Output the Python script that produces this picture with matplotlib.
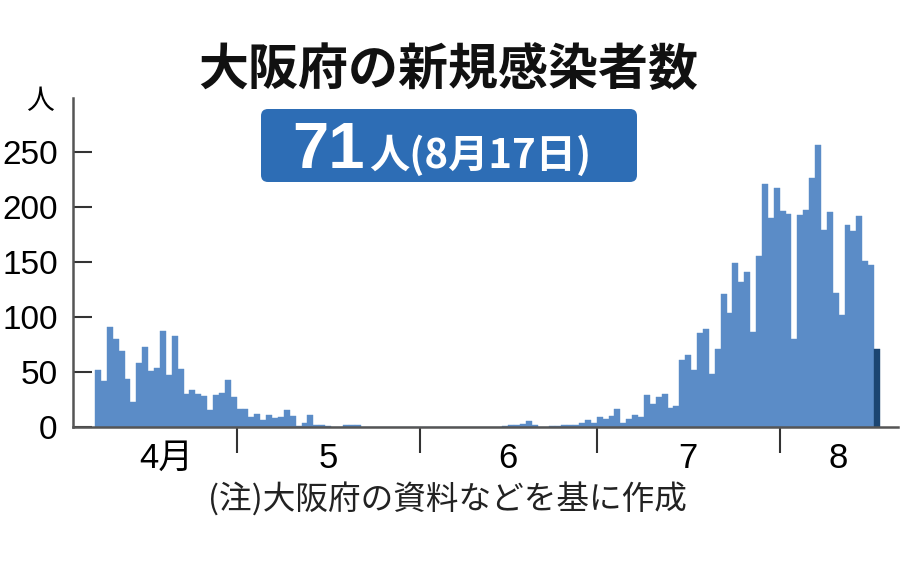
import numpy as np
import matplotlib
matplotlib.use("Agg")
import matplotlib.pyplot as plt
from matplotlib.patches import FancyBboxPatch

# daily new cases in Osaka, 7 Apr - 17 Aug
april = [52, 42, 91, 80, 69, 44, 23, 58, 73, 51, 54, 87, 47, 83, 53, 30,
         34, 30, 28, 15, 29, 31, 43, 27]
may = [16, 16, 9, 12, 6, 11, 8, 9, 15, 10, 1, 4, 11, 2, 2, 1, 0, 0, 2, 2,
       2, 0, 0, 0, 0, 0, 0, 0, 0, 0, 0]
june = [0, 0, 0, 0, 0, 0, 0, 0, 0, 0, 0, 0, 0, 0, 1, 2, 2, 3, 5, 2,
        0, 0, 1, 1, 2, 2, 2, 4, 6, 4]
july = [9, 7, 10, 16, 4, 7, 11, 9, 29, 21, 27, 30, 17, 19, 61, 65, 52, 85,
        89, 48, 71, 121, 104, 149, 132, 141, 86, 155, 221, 190, 217]
august = [196, 194, 80, 193, 197, 226, 256, 179, 195, 122, 102, 184, 178,
          192, 151, 147, 71]

month_labels = ["4月", "5", "6", "7", "8"]
y_ticks = [0, 50, 100, 150, 200, 250]

title = "大阪府の新規感染者数"
latest_num = "71"
latest_rest = "人(8月17日)"
note = "(注)大阪府の資料などを基に作成"

JP = "Noto Sans CJK JP"
NUM = ["Liberation Sans", JP]

BAR = "#5b8cc7"
LAST = "#1b4571"
BOX = "#2d6db5"

values = april + may + june + july + august
x = np.arange(len(values))
colors = [BAR] * (len(values) - 1) + [LAST]

# month boundaries (between last day of a month and first of the next)
lengths = [len(april), len(may), len(june), len(july)]
bounds = np.cumsum(lengths) - 0.5
starts = np.concatenate([[-0.5], bounds])
ends = np.concatenate([bounds, [len(values) - 0.5]])
label_pos = (starts + ends) / 2
label_pos[-1] += 1.5

fig = plt.figure(figsize=(9, 5.61), dpi=100)
fig.patch.set_facecolor("white")

ax = fig.add_axes([73 / 900, (561 - 427) / 561, 825 / 900, 329 / 561])
ax.bar(x, values, width=1.0, color=colors, edgecolor=colors, linewidth=0.3)
ax.set_xlim(-4.23, 135.55)
ax.set_ylim(0, 299)

for s in ["top", "right"]:
    ax.spines[s].set_visible(False)
for s in ["left", "bottom"]:
    ax.spines[s].set_color("#555555")
    ax.spines[s].set_linewidth(1.8)

ax.set_yticks(y_ticks)
ax.set_yticklabels([str(v) for v in y_ticks], fontsize=24, family=NUM)
ax.tick_params(axis="y", direction="in", length=14, width=1.5,
               color="#333333", pad=11)

ax.set_xticks(bounds, minor=True)
ax.set_xticks(label_pos)
ax.set_xticklabels(month_labels, fontsize=25, family=NUM)
ax.tick_params(axis="x", which="major", length=0, pad=11)
ax.tick_params(axis="x", which="minor", direction="out", length=19,
               width=1.5, color="#333333")

# overlay in pixel coordinates for titles and annotations
ov = fig.add_axes([0, 0, 1, 1])
ov.set_xlim(0, 900)
ov.set_ylim(561, 0)
ov.axis("off")

ov.text(448, 71, title, fontsize=36, fontweight="bold", family=JP,
        ha="center", va="center", color="#111111")

box = FancyBboxPatch((261, 109), 376, 73,
                     boxstyle="round,pad=0,rounding_size=7",
                     facecolor=BOX, edgecolor="none")
ov.add_patch(box)
ov.text(292, 168, latest_num, fontsize=47, fontweight="bold",
        family="Liberation Sans", color="white", ha="left", va="baseline")
ov.text(369, 168, latest_rest, fontsize=29, fontweight="bold", family=JP,
        color="white", ha="left", va="baseline")

ov.text(40, 101, "人", fontsize=20, family=JP, ha="center", va="center")

ov.text(447, 500, note, fontsize=23.5, family=JP, ha="center", va="center",
        color="#222222")

fig.savefig("out.png", dpi=100, facecolor="white")
